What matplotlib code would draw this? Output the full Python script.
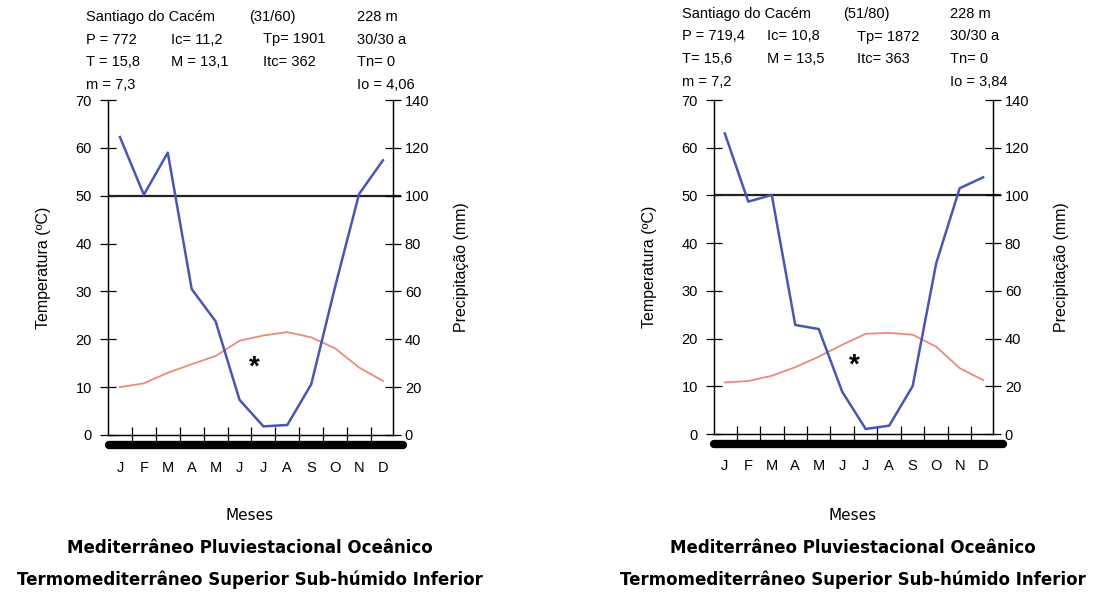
# coding: utf-8

import matplotlib.pyplot as plt

plt.rcParams['font.family'] = ['Liberation Sans', 'DejaVu Sans']

months = ["J", "F", "M", "A", "M", "J", "J", "A", "S", "O", "N", "D"]

# Santiago do Cacém (31/60)
temp_3160 = [10.0, 10.8, 13.0, 14.8, 16.5, 19.7, 20.8, 21.5, 20.4, 18.1, 14.1, 11.3]
prec_3160 = [124.5, 100.4, 118.0, 61.0, 47.5, 14.7, 3.6, 4.2, 21.2, 62.0, 100.7, 114.8]
info_3160 = [["Santiago do Cacém", "", "(31/60)", "228 m"],
             ["P = 772", "Ic= 11,2", "Tp= 1901", "30/30 a"],
             ["T = 15,8", "M = 13,1", "Itc= 362", "Tn= 0"],
             ["m = 7,3", "", "", "Io = 4,06"]]
class_3160 = ["Mediterrâneo Pluviestacional Oceânico",
              "Termomediterrâneo Superior Sub-húmido Inferior"]

# Santiago do Cacém (51/80)
temp_5180 = [10.8, 11.1, 12.2, 14.0, 16.2, 18.7, 21.0, 21.2, 20.8, 18.3, 13.8, 11.3]
prec_5180 = [126.0, 97.4, 100.2, 45.7, 44.0, 17.7, 2.1, 3.5, 20.1, 71.5, 103.0, 107.6]
info_5180 = [["Santiago do Cacém", "", "(51/80)", "228 m"],
             ["P = 719,4", "Ic= 10,8", "Tp= 1872", "30/30 a"],
             ["T= 15,6", "M = 13,5", "Itc= 363", "Tn= 0"],
             ["m = 7,2", "", "", "Io = 3,84"]]
class_5180 = ["Mediterrâneo Pluviestacional Oceânico",
              "Termomediterrâneo Superior Sub-húmido Inferior"]

temp_ticks = [0, 10, 20, 30, 40, 50, 60, 70]
prec_ticks = [0, 20, 40, 60, 80, 100, 120, 140]

W, H = 1108.0, 593.0


def draw_diagram(fig, rect, temp, prec, info, info_x, info_y, col_dx, classes, star, title_x, xlim):
    ax = fig.add_axes(rect)
    ax2 = ax.twinx()
    x = list(range(len(months)))

    # precipitation on 2x scale of temperature
    ax2.plot(x, prec, color="#4b55b3", linewidth=1.8, zorder=3)
    ax.plot(x, temp, color="#ec8a78", linewidth=1.3, zorder=3)
    ax.plot([xlim[0] + 0.05, xlim[1] + 0.3], [50, 50], color="#222222", linewidth=1.6,
            clip_on=False, zorder=2)
    # frost bar under the axis
    ax.plot([-0.45, 11.85], [-2.1, -2.1], color="black", linewidth=6,
            solid_capstyle="round", clip_on=False)
    ax.text(star[0], star[1], "*", fontsize=20, fontweight="bold", ha="center", va="center")

    ax.set_xlim(xlim)
    ax.set_ylim(0, 70)
    ax2.set_ylim(0, 140)
    ax.set_yticks(temp_ticks)
    ax2.set_yticks(prec_ticks)
    ax.set_xticks([i + 0.5 for i in range(11)])
    ax.set_xticklabels([])
    for i, m in enumerate(months):
        ax.text(i, -6.8, m, ha="center", va="center", fontsize=10.5)

    for a in (ax, ax2):
        a.spines["top"].set_visible(False)
        a.spines["left"].set_linewidth(0.9)
        a.spines["right"].set_linewidth(0.9)
        a.spines["bottom"].set_linewidth(0.9)
        a.set_facecolor("none")
    ax.tick_params(axis="y", direction="inout", length=11, width=0.9, labelsize=10.5, pad=6)
    ax2.tick_params(axis="y", direction="inout", length=11, width=0.9, labelsize=10.5, pad=3)
    ax.tick_params(axis="x", direction="inout", length=11, width=0.9)

    ax.set_ylabel("Temperatura (ºC)", fontsize=11.5, labelpad=18)
    ax2.set_ylabel("Precipitação (mm)", fontsize=11.5, labelpad=18)

    line_dy = [0, 22.5, 45, 68]
    for r, row in enumerate(info):
        for c, txt in enumerate(row):
            if txt:
                dx = col_dx[c] if (r > 0 or c != 2) else col_dx[4]
                fig.text((info_x + dx) / W, 1 - (info_y + line_dy[r]) / H, txt,
                         fontsize=10.5, ha="left", va="center")

    fig.text(title_x / W, 1 - 515 / H, "Meses", fontsize=11, ha="center", va="center",
             family="DejaVu Sans")
    fig.text(title_x / W, 1 - 548 / H, classes[0], fontsize=12, fontweight="bold",
             ha="center", va="center", family="DejaVu Sans")
    fig.text(title_x / W, 1 - 580 / H, classes[1], fontsize=12, fontweight="bold",
             ha="center", va="center", family="DejaVu Sans")
    return ax


fig = plt.figure(figsize=(11.08, 5.93), dpi=100)

draw_diagram(fig, [108 / W, 1 - 435 / H, 285 / W, 335 / H], temp_3160, prec_3160, info_3160,
             86, 17, [0, 85, 177, 271, 163], class_3160, (5.6, 14.0), 250, (-0.5, 11.42))
draw_diagram(fig, [714 / W, 1 - 434 / H, 279 / W, 334 / H], temp_5180, prec_5180, info_5180,
             682, 14, [0, 85, 175, 268, 161], class_5180, (5.5, 14.3), 853, (-0.46, 11.42))

fig.savefig("out.png", dpi=100, facecolor="white")
